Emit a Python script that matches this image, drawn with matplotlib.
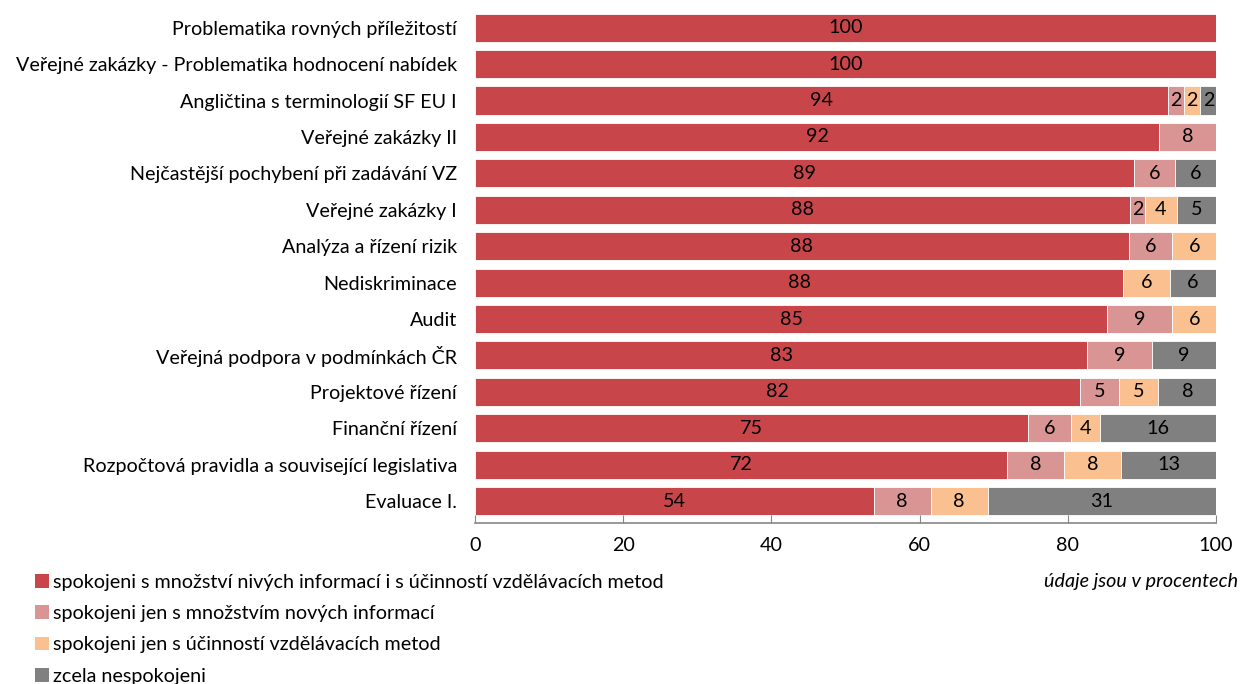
import matplotlib
matplotlib.use("Agg")
import matplotlib.pyplot as plt
from matplotlib.patches import Patch
import numpy as np

plt.rcParams['font.family'] = ['Lato', 'DejaVu Sans']

# kurzy (shora dolů) a podíly odpovědí v %
kurzy = [
    "Problematika rovných příležitostí",
    "Veřejné zakázky - Problematika hodnocení nabídek",
    "Angličtina s terminologií SF EU I",
    "Veřejné zakázky II",
    "Nejčastější pochybení při zadávání VZ",
    "Veřejné zakázky I",
    "Analýza a řízení rizik",
    "Nediskriminace",
    "Audit",
    "Veřejná podpora v podmínkách ČR",
    "Projektové řízení",
    "Finanční řízení",
    "Rozpočtová pravidla a související legislativa",
    "Evaluace I.",
]
spokojeni_oboje = [100, 100, 93.5, 92.3, 88.9, 88.4, 88.2, 87.5, 85.3, 82.6, 81.6, 74.6, 71.8, 53.8]
jen_informace = [0, 0, 2.2, 7.7, 5.6, 2.0, 5.9, 0, 8.8, 8.7, 5.3, 5.8, 7.7, 7.7]
jen_metody = [0, 0, 2.2, 0, 0, 4.3, 5.9, 6.25, 5.9, 0, 5.3, 3.9, 7.7, 7.7]
nespokojeni = [0, 0, 2.2, 0, 5.6, 5.3, 0, 6.25, 0, 8.7, 7.9, 15.7, 12.8, 30.8]

serie = [spokojeni_oboje, jen_informace, jen_metody, nespokojeni]
popisky = [
    "spokojeni s množství nivých informací i s účinností vzdělávacích metod",
    "spokojeni jen s množstvím nových informací",
    "spokojeni jen s účinností vzdělávacích metod",
    "zcela nespokojeni",
]
barvy = ["#C84649", "#D99594", "#FAC08F", "#808080"]
FS = 14.2

fig = plt.figure(figsize=(12.41, 6.84), dpi=100)
ax = fig.add_axes([475 / 1241, 1 - 523 / 684, 741 / 1241, 523 / 684])

y = np.arange(len(kurzy))
left = np.zeros(len(kurzy))
for hodnoty, barva in zip(serie, barvy):
    hodnoty = np.array(hodnoty, dtype=float)
    bars = ax.barh(y, hodnoty, left=left, height=0.77, color=barva,
                   edgecolor="white", linewidth=0.6)
    for b, v in zip(bars, hodnoty):
        if v > 0:
            ax.text(b.get_x() + b.get_width() / 2, b.get_y() + b.get_height() / 2,
                    f"{v:.0f}", ha="center", va="center", fontsize=FS, color="black")
    left += hodnoty

ax.set_ylim(len(kurzy) - 1 + 0.6, -0.76)
ax.set_xlim(0, 100)
ax.set_yticks(y)
ax.set_yticklabels(kurzy, fontsize=FS)
ax.set_xticks(np.arange(0, 101, 20))
ax.tick_params(axis="y", length=0, pad=13)
ax.tick_params(axis="x", direction="in", length=6, color="#868686", labelsize=FS, pad=10)
for s in ["top", "right", "left"]:
    ax.spines[s].set_visible(False)
ax.spines["bottom"].set_color("#868686")
ax.spines["bottom"].set_linewidth(1.2)

handles = [Patch(facecolor=b, edgecolor="none") for b in barvy]
fig.legend(handles, popisky, loc="upper left", bbox_to_anchor=(35 / 1241, 1 - 574 / 684),
           frameon=False, fontsize=FS, handlelength=0.7, handleheight=0.7,
           handletextpad=0.2, labelspacing=0.72, borderaxespad=0, borderpad=0)

fig.text(1238 / 1241, 1 - 582 / 684, "údaje jsou v procentech", ha="right", va="center",
         fontsize=FS, style="italic")

fig.savefig("out.png", dpi=100)
